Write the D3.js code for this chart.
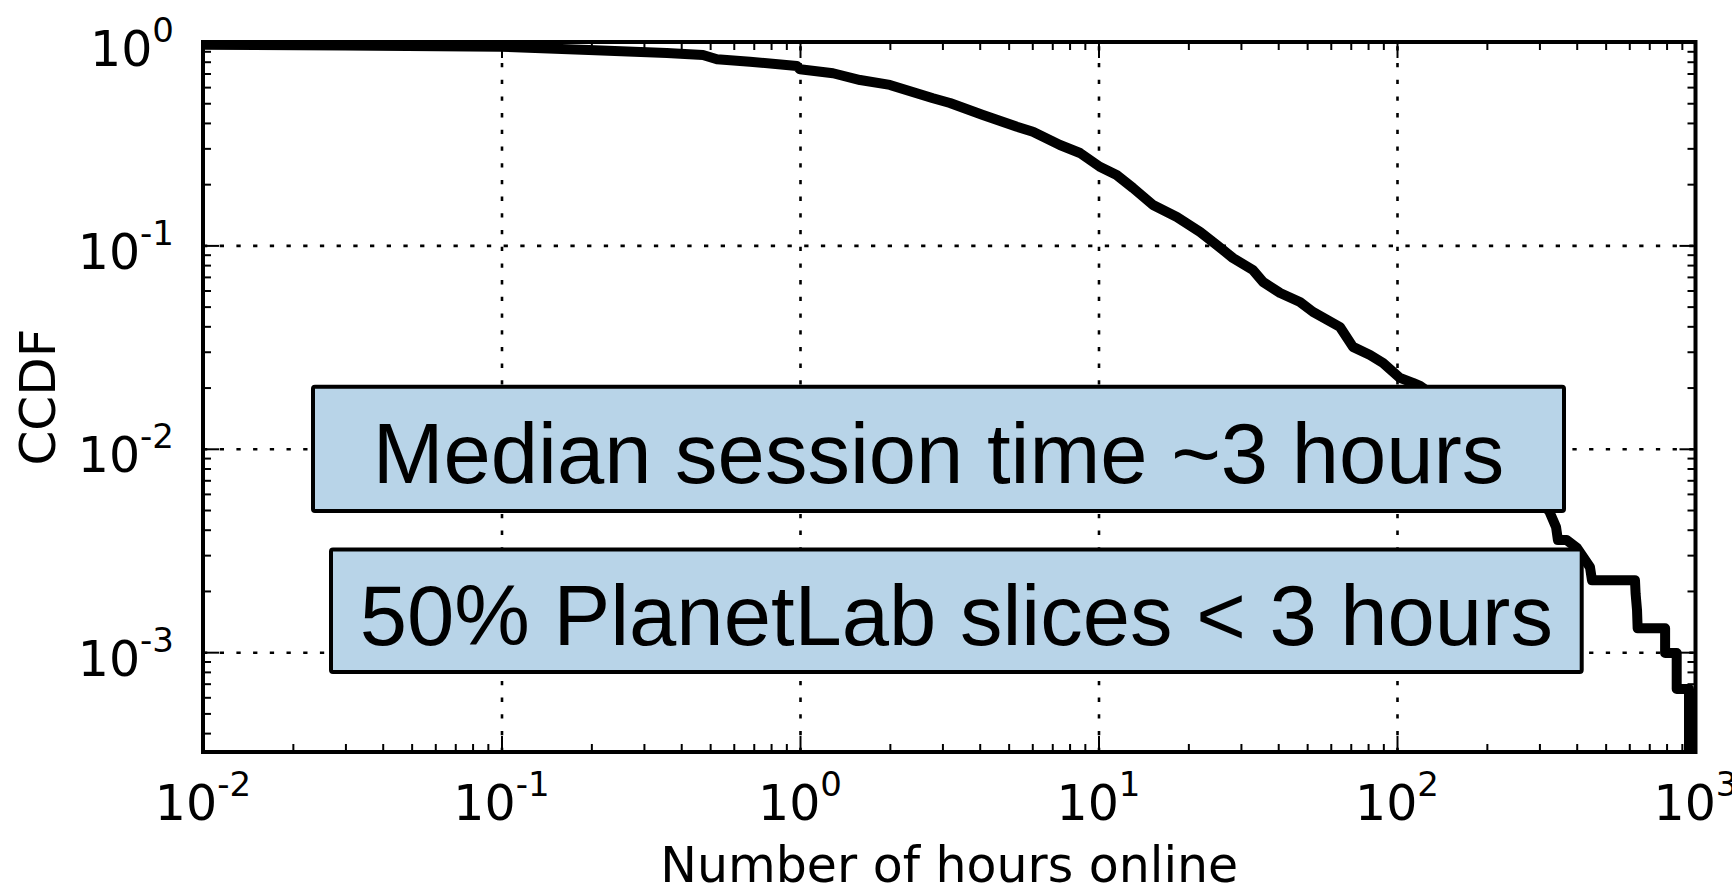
<!DOCTYPE html>
<html>
<head>
<meta charset="utf-8">
<script src="https://cdn.jsdelivr.net/npm/d3@7"></script>
<style>
  html, body { margin: 0; padding: 0; background: #fff; }
  svg { display: block; }
</style>
</head>
<body>
<svg id="chart" width="1732" height="886"></svg>
<script>
// Session length (hours online) and the complementary CDF at each point
const hours = [0.01, 0.03, 0.0989, 0.196, 0.358, 0.473, 0.527, 0.68, 0.977, 1.0,
  1.29, 1.59, 2.0, 2.79, 3.18, 4.1, 5.33, 6.03, 7.43, 8.67,
  10.1, 11.5, 13.05, 15.23, 18.3, 21.9, 24.9, 28.2, 32.9, 35.6,
  40.6, 47.3, 52.3, 64.4, 71.2, 81.2, 89.8, 102.3, 113.1, 119.4,
  160, 210, 270, 324, 341, 346, 370, 401, 443, 450,
  627, 630, 637, 640, 791, 791, 865, 865, 951, 951];
const ccdf = [0.970, 0.960, 0.948, 0.913, 0.883, 0.863, 0.822, 0.800, 0.762, 0.734,
  0.702, 0.650, 0.615, 0.529, 0.501, 0.4376, 0.3834, 0.3622, 0.3116, 0.2846,
  0.2436, 0.2219, 0.1915, 0.158, 0.1379, 0.1164, 0.1005, 0.0867, 0.0757, 0.0661,
  0.0583, 0.0527, 0.0471, 0.0397, 0.0317, 0.0289, 0.0264, 0.0223, 0.0211, 0.0204,
  0.0150, 0.0100, 0.0068, 0.00491, 0.00413, 0.00356, 0.00356, 0.00325, 0.00262, 0.00226,
  0.00226, 0.00194, 0.00161, 0.00131, 0.00131, 0.00099, 0.00099, 0.00066, 0.00066, 0.000323];

// Axis ranges and decade tick labels (powers of ten)
const xDomain = [1e-2, 1e3];
const yDomain = [3.23e-4, 1];
const xExponents = [-2, -1, 0, 1, 2, 3];
const yExponents = [0, -1, -2, -3];

const xTitle = "Number of hours online";
const yTitle = "CCDF";
const notes = ["Median session time ~3 hours", "50% PlanetLab slices < 3 hours"];

// ---- layout ----
const plot = { left: 203, right: 1695.5, top: 42, bottom: 752 };
const pw = plot.right - plot.left, ph = plot.bottom - plot.top;
const tickFont = "'DejaVu Sans', 'Bitstream Vera Sans', sans-serif";
const noteFont = "'Liberation Sans', Arial, Helvetica, sans-serif";

const svg = d3.select("#chart");
svg.append("rect").attr("width", 1732).attr("height", 886).attr("fill", "#fff");

const x = d3.scaleLog().domain(xDomain).range([plot.left, plot.right]);
const y = d3.scaleLog().domain(yDomain).range([plot.bottom, plot.top]);

const xMajor = xExponents.map(e => Math.pow(10, e));
const yMajor = yExponents.map(e => Math.pow(10, e));
const isMajor = v => Math.abs(Math.log10(v) - Math.round(Math.log10(v))) < 1e-9;
const xMinor = x.ticks(60).filter(v => !isMajor(v));
const yMinor = y.ticks(60).filter(v => !isMajor(v) && v >= yDomain[0]);

svg.append("defs").append("clipPath").attr("id", "plotClip")
  .append("rect").attr("x", plot.left).attr("y", plot.top).attr("width", pw).attr("height", ph);

// dotted grid at interior decades
const gridX = svg.append("g").attr("transform", `translate(0,${plot.bottom})`)
  .call(d3.axisBottom(x).tickValues(xMajor.slice(1, -1)).tickSize(-ph).tickFormat(""));
const gridY = svg.append("g").attr("transform", `translate(${plot.left},0)`)
  .call(d3.axisLeft(y).tickValues(yMajor.slice(1)).tickSize(-pw).tickFormat(""));
[gridX, gridY].forEach(g => {
  g.select(".domain").remove();
  g.selectAll("line").attr("stroke", "#000").attr("stroke-width", 2.6)
    .attr("stroke-dasharray", "4.3 12.4");
});

// CCDF curve
const pts = hours.map((h, i) => [h, ccdf[i]]);
svg.append("path")
  .datum(pts)
  .attr("clip-path", "url(#plotClip)")
  .attr("fill", "none")
  .attr("stroke", "#000")
  .attr("stroke-width", 10)
  .attr("stroke-linejoin", "round")
  .attr("stroke-linecap", "butt")
  .attr("d", d3.line().x(d => x(d[0])).y(d => y(d[1])));

// inward ticks on all four sides
function ticks(axis, translate, values, size) {
  const g = svg.append("g").attr("transform", translate)
    .call(axis.tickValues(values).tickSize(-size).tickFormat(""));
  g.select(".domain").remove();
  g.selectAll("line").attr("stroke", "#000").attr("stroke-width", 2);
}
ticks(d3.axisBottom(x), `translate(0,${plot.bottom})`, xMinor, 8);
ticks(d3.axisBottom(x), `translate(0,${plot.bottom})`, xMajor, 16);
ticks(d3.axisTop(x), `translate(0,${plot.top})`, xMinor, 8);
ticks(d3.axisTop(x), `translate(0,${plot.top})`, xMajor, 16);
ticks(d3.axisLeft(y), `translate(${plot.left},0)`, yMinor, 8);
ticks(d3.axisLeft(y), `translate(${plot.left},0)`, yMajor, 16);
ticks(d3.axisRight(y), `translate(${plot.right},0)`, yMinor, 8);
ticks(d3.axisRight(y), `translate(${plot.right},0)`, yMajor, 16);

// frame
svg.append("rect")
  .attr("x", plot.left).attr("y", plot.top).attr("width", pw).attr("height", ph)
  .attr("fill", "none").attr("stroke", "#000").attr("stroke-width", 4);

// power-of-ten labels
function powerLabel(sel, exp) {
  sel.append("tspan").text("10");
  sel.append("tspan").attr("dy", -24).attr("font-size", 34).text(String(exp));
}
svg.append("g").selectAll("text").data(xExponents).join("text")
  .attr("x", e => x(Math.pow(10, e)))
  .attr("y", plot.bottom + 68)
  .attr("text-anchor", "middle")
  .attr("font-family", tickFont).attr("font-size", 49).attr("fill", "#000")
  .each(function (e) { powerLabel(d3.select(this), e); });

svg.append("g").selectAll("text").data(yExponents).join("text")
  .attr("x", 174)
  .attr("y", e => y(Math.pow(10, e)) + 23.5)
  .attr("text-anchor", "end")
  .attr("font-family", tickFont).attr("font-size", 49).attr("fill", "#000")
  .each(function (e) { powerLabel(d3.select(this), e); });

// axis titles
svg.append("text")
  .attr("x", (plot.left + plot.right) / 2).attr("y", 882)
  .attr("text-anchor", "middle")
  .attr("font-family", tickFont).attr("font-size", 49).attr("fill", "#000")
  .text(xTitle);
svg.append("text")
  .attr("transform", `translate(55,${(plot.top + plot.bottom) / 2}) rotate(-90)`)
  .attr("text-anchor", "middle")
  .attr("font-family", tickFont).attr("font-size", 50).attr("fill", "#000")
  .text(yTitle);

// annotation boxes
const boxes = [
  { x0: 313, x1: 1564, y0: 386.7, y1: 511 },
  { x0: 331, x1: 1581.7, y0: 549.5, y1: 672 }
];
const ann = svg.append("g");
boxes.forEach((b, i) => {
  ann.append("rect")
    .attr("x", b.x0).attr("y", b.y0)
    .attr("width", b.x1 - b.x0).attr("height", b.y1 - b.y0)
    .attr("rx", 2)
    .attr("fill", "#b8d4e8").attr("stroke", "#000").attr("stroke-width", 4);
  ann.append("text")
    .attr("x", (b.x0 + b.x1) / 2)
    .attr("y", (b.y0 + b.y1) / 2 + 34.5)
    .attr("text-anchor", "middle")
    .attr("font-family", noteFont).attr("font-size", 85).attr("fill", "#000")
    .text(notes[i]);
});
</script>
</body>
</html>
